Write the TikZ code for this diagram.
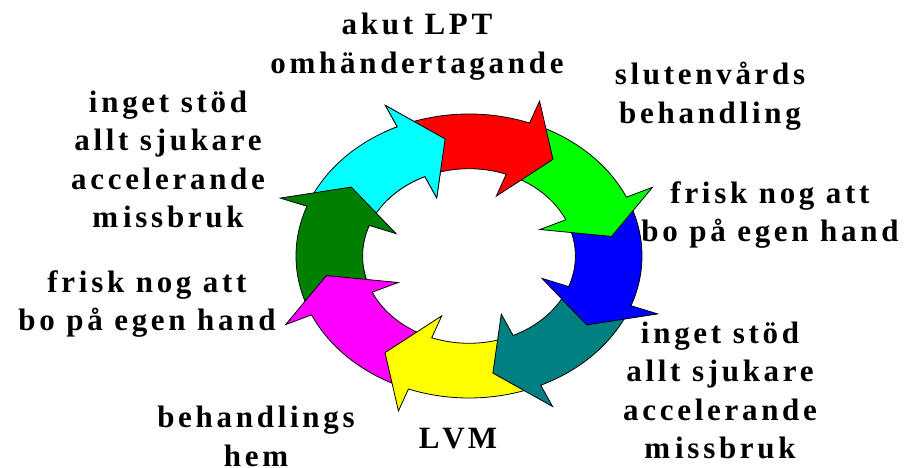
\documentclass[tikz,border=0pt]{standalone}
\usepackage{fontspec}
\setmainfont{Liberation Serif}[LetterSpace=12]

\definecolor{arRed}{HTML}{FF0000}
\definecolor{arGreen}{HTML}{00FF00}
\definecolor{arBlue}{HTML}{0000FF}
\definecolor{arTeal}{HTML}{008080}
\definecolor{arYellow}{HTML}{FFFF00}
\definecolor{arMagenta}{HTML}{FF00FF}
\definecolor{arDkGreen}{HTML}{008000}
\definecolor{arCyan}{HTML}{00FFFF}

% One curved block arrow of the ring; #1 is the angle of its tip.
% The body runs along the elliptical band from #1+57 down to #1+15,
% where the triangular head starts.
\newcommand\piecepath[1]{%
  ({#1+57}:173pt and 142pt)
  arc[start angle={#1+57}, end angle={#1+15}, x radius=173pt, y radius=142pt]
  -- ({#1+15}:201.5pt and 165.4pt)
  -- ({#1}:144.6pt and 118.7pt)
  -- ({#1+15}:77.9pt and 63.9pt)
  -- ({#1+15}:106.4pt and 87.3pt)
  arc[start angle={#1+15}, end angle={#1+57}, x radius=106.4pt, y radius=87.3pt]
  -- cycle}

\begin{document}
\begin{tikzpicture}[x=1pt,y=1pt,
  ringpiece/.style={draw=black, line width=0.8pt, line join=miter},
  caption/.style={anchor=base, inner sep=0pt,
    font=\fontsize{31}{38.5}\selectfont\bfseries}]
\useasboundingbox (0,0) rectangle (908,467);
\fill[white] (0,0) rectangle (908,467);

\begin{scope}[shift={(469,211)}]
  % each piece is drawn before the one whose tail sits under its head
  \foreach \col/\t in {arCyan/99.5, arDkGreen/144.5, arMagenta/-170.5,
                       arYellow/-125.5, arTeal/-80.5, arBlue/-35.5,
                       arGreen/9.5, arRed/54.5}
    {\path[ringpiece, fill=\col] \piecepath{\t};}
  % the cyan head lies over the red tail: repaint it there
  \begin{scope}
    \clip (-86,56) rectangle (5,165);
    \path[ringpiece, fill=arCyan] \piecepath{99.5};
  \end{scope}
\end{scope}

\node[caption] (lptcare) at (417,432)
  {\begin{tabular}[t]{@{}c@{}}akut LPT\\omhändertagande\end{tabular}};
\node[caption] (inpatient) at (710,382)
  {\begin{tabular}[t]{@{}c@{}}slutenvårds\\behandling\end{tabular}};
\node[caption] (homeright) at (770,264)
  {\begin{tabular}[t]{@{}c@{}}frisk nog att\\bo på egen hand\end{tabular}};
\node[caption] (worseright) at (720,124)
  {\begin{tabular}[t]{@{}c@{}}inget stöd\\allt sjukare\\accelerande\\m\kern5pt issbruk\end{tabular}};
\node[caption] (lvm) at (458,19) {L\kern3pt V\kern3pt M};
\node[caption] (treathome) at (256,39.5)
  {\begin{tabular}[t]{@{}c@{}}behandlings\\hem\end{tabular}};
\node[caption] (homeleft) at (147,175)
  {\begin{tabular}[t]{@{}c@{}}frisk nog att\\bo på egen hand\end{tabular}};
\node[caption] (worseleft) at (168,355)
  {\begin{tabular}[t]{@{}c@{}}inget stöd\\allt sjukare\\accelerande\\m\kern5pt issbruk\end{tabular}};
\end{tikzpicture}
\end{document}
